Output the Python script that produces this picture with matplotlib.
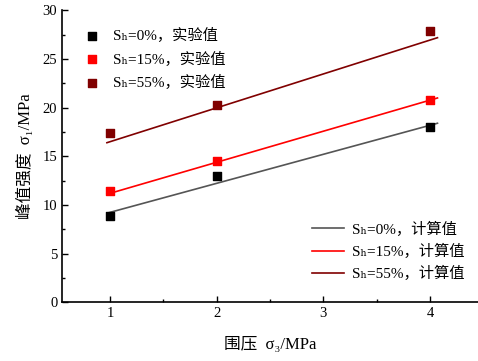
import matplotlib
matplotlib.use("Agg")
import matplotlib.pyplot as plt
from matplotlib.ticker import MultipleLocator

plt.rcParams['font.family'] = ['Liberation Serif', 'DejaVu Serif', 'Noto Sans CJK SC']

# data
confining = [1, 2, 4]
exp_0 = [8.9, 13.0, 18.0]
exp_15 = [11.4, 14.5, 20.8]
exp_55 = [17.4, 20.3, 27.9]

calc_x = [0.97, 4.07]
calc_0 = [9.15, 18.4]
calc_15 = [11.1, 21.0]
calc_55 = [16.4, 27.2]

exp_labels = ['Sₕ=0%，实验值', 'Sₕ=15%，实验值', 'Sₕ=55%，实验值']
calc_labels = ['Sₕ=0%，计算值', 'Sₕ=15%，计算值', 'Sₕ=55%，计算值']
colors_exp = ['#000000', '#ff0000', '#800000']
colors_calc = ['#555555', '#ff0000', '#800000']

fig = plt.figure(figsize=(4.78, 3.61), dpi=100)
ax = fig.add_axes([0.130, 0.163, 0.870, 0.808])

lines = []
for y, c, lab in zip([calc_0, calc_15, calc_55], colors_calc, calc_labels):
    l, = ax.plot(calc_x, y, color=c, lw=1.2, label=lab)
    lines.append(l)
pts = []
for y, c, lab in zip([exp_0, exp_15, exp_55], colors_exp, exp_labels):
    p = ax.scatter(confining, y, marker='s', s=36, color=c, label=lab, zorder=3)
    pts.append(p)

ax.set_xlim(0.55, 4.45)
ax.set_ylim(0, 30)
ax.xaxis.set_major_locator(MultipleLocator(1))
ax.xaxis.set_minor_locator(MultipleLocator(0.5))
ax.yaxis.set_major_locator(MultipleLocator(5))
ax.yaxis.set_minor_locator(MultipleLocator(2.5))
ax.tick_params(which='both', direction='in', labelsize=10.5, width=1)
ax.tick_params(which='major', length=4)
ax.tick_params(which='minor', length=2.5)
ax.spines['top'].set_visible(False)
ax.spines['right'].set_visible(False)
ax.spines['left'].set_linewidth(1.2)
ax.spines['bottom'].set_linewidth(1.2)

ax.set_xlabel('围压  σ₃/MPa', fontsize=12, labelpad=12)
ax.set_ylabel('峰值强度  σ₁/MPa', fontsize=12, labelpad=6)

leg1 = ax.legend(handles=pts, loc='upper left', frameon=False, fontsize=11,
                 bbox_to_anchor=(0.002, 0.988), handletextpad=0.4, labelspacing=0.56, scatterpoints=1)
ax.add_artist(leg1)
ax.legend(handles=lines, loc='lower right', frameon=False, fontsize=11,
          bbox_to_anchor=(1.0, 0.024), handlelength=2.1, handletextpad=0.5, labelspacing=0.47)

fig.savefig('out.png', dpi=100)
